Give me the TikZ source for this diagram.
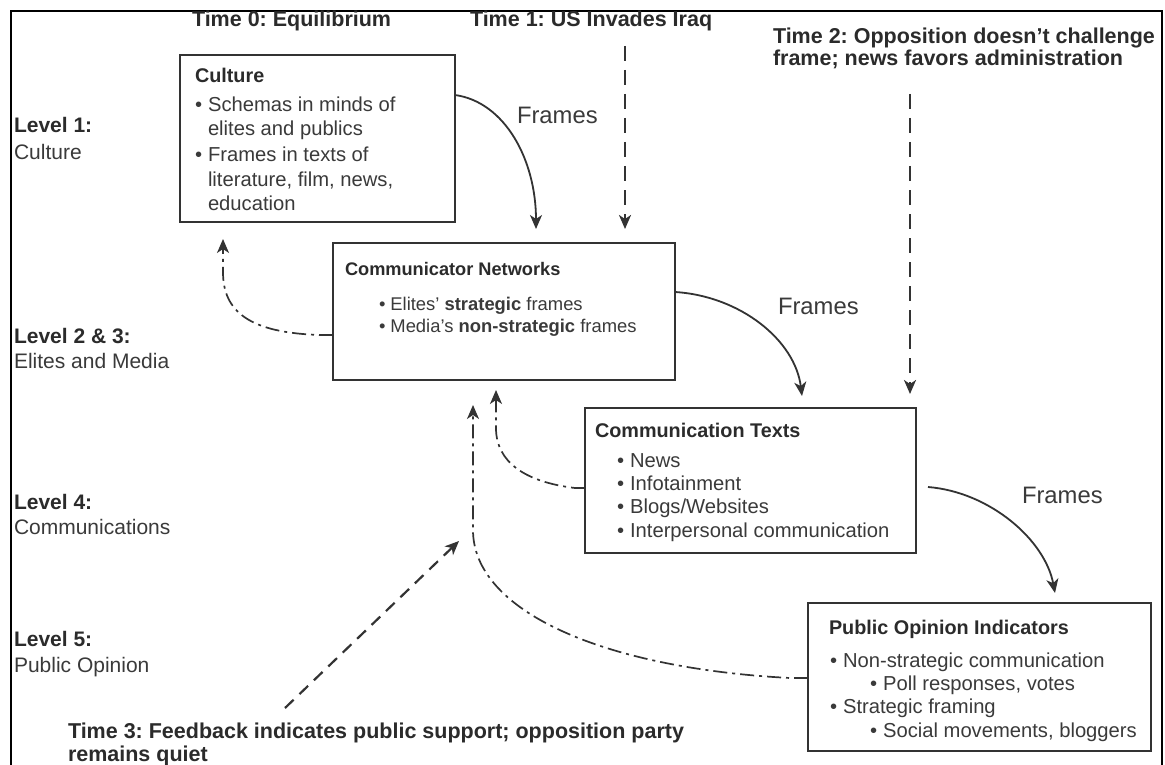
\documentclass[tikz,border=0pt]{standalone}
\usepackage{fontspec}
\setmainfont{Liberation Sans}
\usetikzlibrary{arrows.meta,calc}
\definecolor{ink}{HTML}{2B2B2B}
\definecolor{inkl}{HTML}{3A3A3A}
\definecolor{linec}{HTML}{333333}
\newcommand\fsz[2]{\fontsize{#1}{#2}\selectfont}
\frenchspacing
\begin{document}
\frenchspacing
\begin{tikzpicture}[x=1pt,y=-1pt,
  every node/.style={inner sep=0pt, outer sep=0pt, text=ink},
  boxnode/.style={draw=linec, line width=2pt, anchor=north west, inner sep=0pt},
  timelbl/.style={anchor=base west, font=\fsz{21.5}{25}\bfseries},
  lvlb/.style={anchor=base west, font=\fsz{21}{25}\bfseries},
  lvlr/.style={anchor=base west, font=\fsz{21}{25}, text=inkl},
  ttl/.style={anchor=base west, font=\fsz{19.8}{24}\bfseries},
  bt/.style={anchor=base west, font=\fsz{20.2}{24}, text=inkl},
  bts/.style={anchor=base west, font=\fsz{18.4}{22}, text=inkl},
  framelbl/.style={anchor=base west, font=\fsz{23.8}{28}, text=inkl},
  tip/.style={-{Stealth[length=14pt,width=12pt,inset=4pt]}},
  flow/.style={draw=linec, line width=1.8pt, tip},
  timearr/.style={draw=linec, line width=2.2pt, dash pattern=on 15pt off 9pt, tip},
  timearrb/.style={draw=linec, line width=2.2pt, dash pattern=on 12pt off 8pt, tip},
  fb/.style={draw=linec, line width=1.7pt, dash pattern=on 14pt off 5pt on 3pt off 5pt, tip},
]
\useasboundingbox (0,0) rectangle (1165,765);
\fill[white] (0,0) rectangle (1165,765);
% outer frame
\draw[line width=2.5pt, black] (11,765) -- (11,11) -- (1162,11) -- (1162,765);

% time labels
\node[timelbl] (t0) at (192,27) {Time 0: Equilibrium};
\node[timelbl] (t1) at (470,27) {Time 1: US Invades Iraq};
\node[timelbl] (t2a) at (773,44) {Time 2: Opposition doesn’t challenge};
\node[timelbl] (t2b) at (773,66) {frame; news favors administration};
\node[timelbl] (t3a) at (68,738) {Time 3: Feedback indicates public support; opposition party};
\node[timelbl] (t3b) at (68,761) {remains quiet};

% level labels
\node[lvlb] (l1a) at (14,133) {Level 1:};
\node[lvlr] (l1b) at (14,160) {Culture};
\node[lvlb] (l2a) at (14,343) {Level 2 \& 3:};
\node[lvlr] (l2b) at (14,368) {Elites and Media};
\node[lvlb] (l4a) at (14,509) {Level 4:};
\node[lvlr] (l4b) at (14,534) {Communications};
\node[lvlb] (l5a) at (14,646) {Level 5:};
\node[lvlr] (l5b) at (14,672) {Public Opinion};

% boxes
\node[boxnode, minimum width=275pt, minimum height=167pt] (culture) at (180,55) {};
\node[boxnode, minimum width=342pt, minimum height=137pt] (cn) at (333,243) {};
\node[boxnode, minimum width=331pt, minimum height=145pt] (ct) at (585,408) {};
\node[boxnode, minimum width=343pt, minimum height=148pt] (poi) at (808,603) {};

% culture text
\node[ttl] (cu0) at (195,83) {Culture};
\node[bt] (cu1) at (195,112) {•\hspace{6pt}Schemas in minds of};
\node[bt] (cu2) at (208,136) {elites and publics};
\node[bt] (cu3) at (195,162) {•\hspace{6pt}Frames in texts of};
\node[bt] (cu4) at (208,186) {literature, film, news,};
\node[bt] (cu5) at (208,210) {education};

% communicator networks text
\node[ttl, font=\fsz{18.2}{22}\bfseries] (cn0) at (345,275) {Communicator Networks};
\node[bts] (cn1) at (379,310) {•\hspace{5pt}Elites’ \textbf{strategic} frames};
\node[bts] (cn2) at (379,332) {•\hspace{5pt}Media’s \textbf{non-strategic} frames};

% communication texts text
\node[ttl] (ct0) at (595,437) {Communication Texts};
\node[bt] (ct1) at (617,467) {•\hspace{6pt}News};
\node[bt] (ct2) at (617,490) {•\hspace{6pt}Infotainment};
\node[bt] (ct3) at (617,513) {•\hspace{6pt}Blogs/Websites};
\node[bt] (ct4) at (617,537) {•\hspace{6pt}Interpersonal communication};

% public opinion indicators text
\node[ttl] (po0) at (829,634) {Public Opinion Indicators};
\node[bt] (po1) at (830,667) {•\hspace{6pt}Non-strategic communication};
\node[bt] (po2) at (870,690) {•\hspace{6pt}Poll responses, votes};
\node[bt] (po3) at (830,713) {•\hspace{6pt}Strategic framing};
\node[bt] (po4) at (870,737) {•\hspace{6pt}Social movements, bloggers};

% frames labels
\node[framelbl] (f1) at (517,124) {Frames};
\node[framelbl] (f2) at (778,314) {Frames};
\node[framelbl] (f3) at (1022,503) {Frames};

% free ends
\coordinate (f1end) at (536,229);
\coordinate (f2end) at (802,396);
\coordinate (f3end) at (1055,593);
\coordinate (t1start) at (625,46);
\coordinate (t1end) at (625,229);
\coordinate (t2start) at (910,94);
\coordinate (t2end) at (910,394);
\coordinate (t3start) at (285,708);
\coordinate (t3end) at (459,541);
\coordinate (fb1end) at (223,239);
\coordinate (fb2end) at (496,390);
\coordinate (fb3end) at (473,405);

% frames arrows
\draw[flow] (culture.north east |- 456,95) .. controls (505,102) and (536,160) .. (f1end);
\draw[flow] (cn.north east |- 676,292) .. controls (740,296) and (795,340) .. (f2end);
\draw[flow] ($(ct.north east |- 0,487)+(12,0)$) .. controls (990,492) and (1045,540) .. (f3end);

% time arrows
\draw[timearr] (t1start) -- (t1end);
\draw[timearr] (t2start) -- (t2end);
\draw[timearrb] (t3start) -- (t3end);

% feedback arrows
\draw[fb] (cn.west |- 0,335) -- ++(-12,0) .. controls (250,333) and (223,312) .. (223,272) -- (fb1end);
\draw[fb] (ct.west |- 0,488) -- ++(-10,0) .. controls (525,482) and (496,462) .. (496,428) -- (fb2end);
\draw[fb] (poi.west |- 0,678) -- ++(-18,0) .. controls (600,668) and (473,610) .. (473,530) -- (fb3end);
\end{tikzpicture}
\end{document}
